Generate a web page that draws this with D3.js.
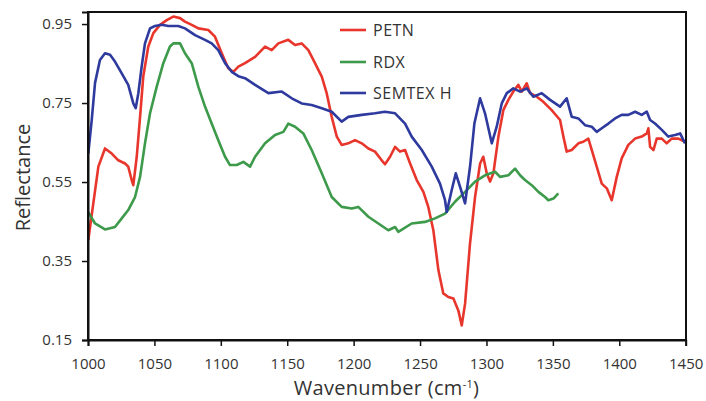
<!DOCTYPE html>
<html>
<head>
<meta charset="utf-8">
<script src="https://cdn.jsdelivr.net/npm/d3@7"></script>
<style>
  html, body { margin: 0; padding: 0; background: #fff; }
  svg { display: block; font-family: "Open Sans", "Noto Sans", sans-serif; }
</style>
</head>
<body>
<svg id="chart" width="706" height="401"></svg>
<script>
// Reflectance spectra: wavenumber (cm-1) and reflectance for each sample
const petnWn = [1000.2,1004.0,1007.8,1012.8,1017.9,1022.8,1027.9,1030.3,1032.9,1034.1,1036.7,1039.2,1041.6,1045.4,1049.2,1054.2,1059.3,1064.2,1069.3,1073.0,1078.1,1083.1,1090.6,1095.6,1100.7,1105.6,1109.4,1113.2,1118.2,1125.8,1133.3,1138.3,1143.3,1150.8,1155.9,1160.9,1165.9,1170.9,1176.0,1179.7,1183.5,1187.3,1191.0,1196.0,1201.0,1206.1,1211.1,1216.1,1221.1,1223.6,1227.4,1231.2,1234.9,1238.7,1242.5,1247.5,1252.5,1256.2,1260.0,1263.8,1267.5,1271.3,1275.1,1278.8,1281.4,1283.9,1287.6,1291.4,1295.2,1297.6,1300.2,1302.7,1305.2,1309.0,1312.7,1316.5,1320.2,1324.0,1326.6,1330.3,1332.8,1337.9,1342.8,1349.1,1355.4,1357.9,1360.4,1364.2,1369.2,1372.9,1376.7,1379.3,1383.0,1386.8,1390.6,1394.3,1398.1,1401.8,1406.8,1411.9,1416.9,1420.7,1421.9,1423.2,1425.7,1428.2,1432.0,1435.7,1439.5,1444.5,1449.5];
const petnR = [0.403,0.496,0.589,0.635,0.622,0.605,0.597,0.589,0.555,0.542,0.614,0.715,0.817,0.893,0.927,0.948,0.960,0.969,0.965,0.956,0.948,0.939,0.935,0.918,0.876,0.838,0.829,0.842,0.851,0.867,0.893,0.884,0.901,0.910,0.897,0.901,0.884,0.851,0.817,0.775,0.715,0.665,0.644,0.648,0.656,0.648,0.635,0.627,0.605,0.595,0.614,0.639,0.627,0.631,0.597,0.555,0.525,0.487,0.428,0.327,0.268,0.259,0.255,0.225,0.187,0.242,0.394,0.512,0.597,0.614,0.572,0.551,0.572,0.665,0.732,0.758,0.779,0.796,0.779,0.800,0.775,0.766,0.753,0.732,0.707,0.665,0.627,0.631,0.648,0.652,0.660,0.631,0.589,0.546,0.534,0.504,0.563,0.610,0.644,0.660,0.665,0.673,0.686,0.639,0.631,0.660,0.660,0.648,0.660,0.660,0.652];

const rdxWn = [1000.2,1005.3,1012.8,1020.3,1025.4,1030.3,1035.4,1039.2,1042.9,1046.7,1051.7,1056.7,1061.7,1064.2,1069.3,1073.0,1078.1,1083.1,1088.1,1093.1,1098.1,1103.2,1106.9,1112.0,1117.0,1122.0,1125.8,1133.3,1140.8,1147.1,1150.8,1155.9,1162.1,1168.4,1176.0,1183.5,1191.0,1198.6,1203.5,1211.1,1218.6,1226.1,1231.2,1233.6,1243.7,1253.7,1261.3,1268.8,1276.3,1283.9,1291.4,1298.9,1306.5,1310.2,1316.5,1321.5,1325.3,1329.0,1334.1,1339.1,1344.1,1346.6,1350.4,1354.1];
const rdxR = [0.474,0.445,0.430,0.436,0.458,0.479,0.512,0.563,0.648,0.724,0.791,0.851,0.893,0.901,0.901,0.876,0.851,0.791,0.741,0.698,0.656,0.614,0.593,0.593,0.601,0.589,0.614,0.648,0.669,0.677,0.698,0.690,0.673,0.631,0.572,0.512,0.487,0.483,0.487,0.462,0.445,0.428,0.436,0.424,0.445,0.449,0.458,0.470,0.500,0.525,0.551,0.567,0.576,0.563,0.567,0.584,0.567,0.555,0.542,0.525,0.512,0.504,0.508,0.521];

const semtexWn = [1000.2,1002.8,1005.3,1009.0,1012.8,1016.6,1020.3,1025.4,1030.3,1034.1,1035.9,1037.9,1040.4,1042.9,1046.7,1050.4,1055.5,1060.5,1068.0,1073.0,1080.6,1088.1,1093.1,1098.1,1103.2,1108.2,1113.2,1118.2,1125.8,1135.8,1145.9,1153.4,1160.9,1168.4,1176.0,1183.5,1191.0,1196.0,1206.1,1216.1,1223.6,1231.2,1238.7,1243.7,1251.3,1258.8,1265.0,1268.8,1270.1,1273.8,1276.9,1280.1,1283.9,1287.6,1290.9,1295.2,1298.9,1304.0,1307.7,1311.5,1315.3,1320.2,1325.3,1330.3,1335.3,1341.6,1347.9,1355.4,1360.4,1364.2,1369.2,1374.2,1379.3,1383.0,1386.8,1391.8,1396.8,1401.8,1406.8,1411.9,1416.9,1420.7,1423.2,1426.9,1432.0,1436.9,1442.0,1445.8,1449.5];
const semtexR = [0.622,0.707,0.801,0.859,0.876,0.872,0.855,0.825,0.796,0.749,0.737,0.775,0.842,0.901,0.939,0.945,0.948,0.945,0.945,0.939,0.922,0.910,0.901,0.884,0.851,0.829,0.818,0.813,0.796,0.775,0.779,0.762,0.749,0.745,0.737,0.728,0.703,0.715,0.720,0.724,0.728,0.724,0.698,0.665,0.631,0.589,0.546,0.504,0.474,0.529,0.572,0.538,0.496,0.588,0.698,0.762,0.724,0.648,0.690,0.749,0.775,0.787,0.779,0.787,0.766,0.775,0.758,0.741,0.762,0.715,0.711,0.694,0.690,0.677,0.686,0.698,0.711,0.720,0.720,0.728,0.720,0.728,0.707,0.698,0.682,0.665,0.669,0.673,0.648];

const seriesNames = ["PETN", "RDX", "SEMTEX H"];
const seriesColors = ["#e8362d", "#3c9a4a", "#2e3a9e"];
const xTicks = [1000,1050,1100,1150,1200,1250,1300,1350,1400,1450];
const yTicks = [0.15,0.35,0.55,0.75,0.95];

const series = [
  { name: seriesNames[0], color: seriesColors[0], wn: petnWn, r: petnR },
  { name: seriesNames[1], color: seriesColors[1], wn: rdxWn, r: rdxR },
  { name: seriesNames[2], color: seriesColors[2], wn: semtexWn, r: semtexR }
];

const svg = d3.select("#chart");
const plot = { left: 88, right: 686, top: 12, bottom: 340 };

const x = d3.scaleLinear().domain([1000, 1450]).range([plot.left, 685.7]);
const y = d3.scaleLinear().domain([0.15, 0.9805]).range([plot.bottom, plot.top]);

// Spectra
const line = d3.line().x(d => x(d[0])).y(d => y(d[1]));
const lines = svg.append("g");
series.forEach(s => {
  lines.append("path")
    .datum(s.wn.map((w, i) => [w, s.r[i]]))
    .attr("fill", "none")
    .attr("stroke", s.color)
    .attr("stroke-width", 2.6)
    .attr("stroke-linejoin", "round")
    .attr("d", line);
});

// Frame
svg.append("rect")
  .attr("x", plot.left).attr("y", plot.top)
  .attr("width", plot.right - plot.left).attr("height", plot.bottom - plot.top)
  .attr("fill", "none").attr("stroke", "#111").attr("stroke-width", 2);

// Axes
const xAxis = svg.append("g")
  .attr("transform", `translate(0,${plot.bottom})`)
  .call(d3.axisBottom(x).tickValues(xTicks).tickFormat(d3.format("d")).tickSize(6).tickPadding(12));
const yAxis = svg.append("g")
  .attr("transform", `translate(${plot.left},0)`)
  .call(d3.axisLeft(y).tickValues(yTicks).tickFormat(d3.format(".2f")).tickSize(6).tickPadding(10));

[xAxis, yAxis].forEach(g => {
  g.select(".domain").attr("stroke", "#111").attr("stroke-width", 2);
  g.selectAll(".tick line").attr("stroke", "#111").attr("stroke-width", 1.5);
  g.selectAll(".tick text")
    .attr("fill", "#333")
    .style("font-family", '"Open Sans", sans-serif')
    .style("font-size", "15px");
});

// Axis titles
const xTitle = svg.append("text")
  .attr("x", 386.5).attr("y", 395)
  .attr("text-anchor", "middle")
  .attr("fill", "#333")
  .style("font-size", "20px")
  .style("letter-spacing", "0.3px");
xTitle.append("tspan").text("Wavenumber (cm");
xTitle.append("tspan").attr("baseline-shift", "super").style("font-size", "11px").text("-1");
xTitle.append("tspan").text(")");

svg.append("text")
  .attr("transform", "translate(30,177.5) rotate(-90)")
  .attr("text-anchor", "middle")
  .attr("fill", "#333")
  .style("font-size", "20px")
  .text("Reflectance");

// Legend
const legend = svg.append("g");
const legendY = [30, 62, 93];
series.forEach((s, i) => {
  legend.append("line")
    .attr("x1", 340).attr("x2", 366)
    .attr("y1", legendY[i]).attr("y2", legendY[i])
    .attr("stroke", s.color).attr("stroke-width", 2.6);
  legend.append("text")
    .attr("x", 373).attr("y", legendY[i])
    .attr("dy", "0.35em")
    .attr("fill", "#333")
    .style("font-size", "16px")
    .style("letter-spacing", "0.5px")
    .text(s.name);
});
</script>
</body>
</html>
